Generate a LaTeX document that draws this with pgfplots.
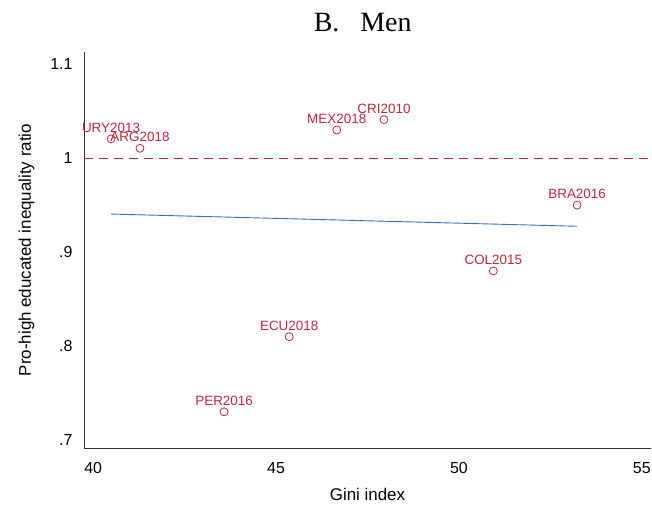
\documentclass[border=0pt]{standalone}
\usepackage{pgfplots}
\pgfplotsset{compat=1.18}
\usepackage{fontspec}
\setmainfont{Liberation Sans}
\newfontfamily\titlefont{Liberation Serif}
\definecolor{cranb}{RGB}{192,38,60}
\definecolor{fitblue}{RGB}{58,108,186}
\begin{document}
\begin{tikzpicture}
\path[use as bounding box] (-84bp,-58bp) rectangle (568bp,448bp);
\begin{axis}[
  at={(0,0)}, anchor=south west,
  scale only axis, width=567bp, height=396bp,
  xmin=39.75, xmax=55.25,
  ymin=0.6915, ymax=1.113,
  axis x line*=bottom, axis y line*=left,
  axis line style={line width=0.9bp, black!80},
  xtick={40,45,50,55},
  ytick={0.7,0.8,0.9,1,1.1},
  yticklabels={.7,.8,.9,1,1.1},
  tick style={draw=none},
  /pgf/number format/assume math mode=true,
  tick label style={font=\fontsize{16}{18}\selectfont},
  xticklabel style={yshift=-11bp},
  yticklabel style={xshift=-8bp},
  xlabel={Gini index},
  ylabel={Pro-high educated inequality ratio},
  label style={font=\fontsize{17}{19}\selectfont},
  xlabel style={yshift=-8bp},
  ylabel style={yshift=9bp},
  clip=false,
]
\addplot[cranb, dashed, line width=1bp, dash pattern=on 9bp off 6bp] coordinates {(39.75,1) (55.25,1)};
\addplot[fitblue, line width=0.9bp] coordinates {(40.49,0.9405) (53.23,0.9275)};
\addplot[only marks, mark=o, mark size=4bp, cranb, mark options={line width=0.8bp},
  nodes near coords, point meta=explicit symbolic,
  every node near coord/.style={font=\fontsize{13.5}{15}\selectfont, text=cranb, anchor=base, inner sep=0pt, yshift=6.5bp}]
  table[meta=lab] {
x y lab
40.49 1.0205 URY2013
41.28 1.0105 ARG2018
46.66 1.030 MEX2018
47.95 1.041 CRI2010
53.23 0.950 BRA2016
50.94 0.880 COL2015
45.36 0.810 ECU2018
43.58 0.730 PER2016
};
\node[font=\titlefont\fontsize{28}{30}\selectfont, anchor=base] at (axis cs:47.37,1.113) [yshift=20bp] {B.\hspace{21bp}Men};
\end{axis}
\end{tikzpicture}
\end{document}
